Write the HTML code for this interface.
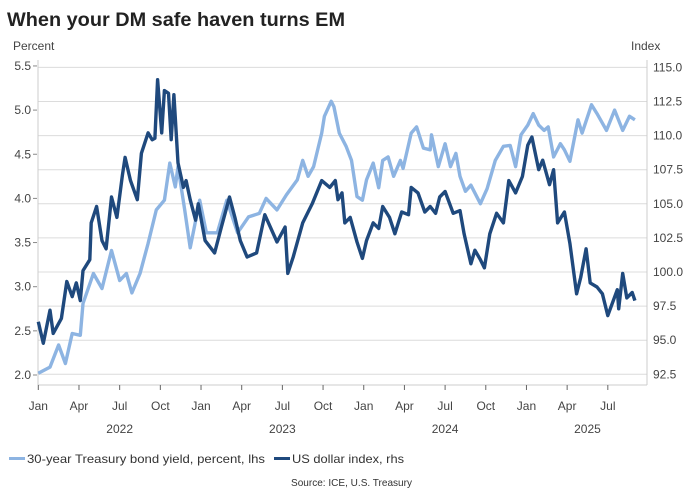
<!DOCTYPE html>
<html><head><meta charset="utf-8">
<style>
body{margin:0;background:#fff;}
svg{display:block;font-family:"Liberation Sans",sans-serif;}
</style></head>
<body>
<svg id="chart" width="700" height="500" viewBox="0 0 700 500" xmlns="http://www.w3.org/2000/svg">
<rect width="700" height="500" fill="#fff"/>
<text x="7" y="26" font-size="19" font-weight="bold" fill="#222" textLength="338" lengthAdjust="spacingAndGlyphs">When your DM safe haven turns EM</text>
<text x="13" y="50" font-size="12" fill="#444">Percent</text>
<text x="631" y="50" font-size="12" fill="#444">Index</text>
<g id="grid"></g><g id="axes"></g><g id="series"></g>
<g>
<rect x="9" y="457" width="16" height="3" fill="#8db4e2"/>
<text x="27" y="463" font-size="12" fill="#333" textLength="238" lengthAdjust="spacingAndGlyphs">30-year Treasury bond yield, percent, lhs</text>
<rect x="274" y="457" width="16" height="3" fill="#1f497d"/>
<text x="292" y="463" font-size="12" fill="#333" textLength="112" lengthAdjust="spacingAndGlyphs">US dollar index, rhs</text>
</g>
<text x="291" y="486" font-size="10.5" fill="#333" textLength="121" lengthAdjust="spacingAndGlyphs">Source: ICE, U.S. Treasury</text>
</svg>
<script>
const yieldMonths=[0,0.86,1.5,2,2.5,3.1,3.3,4.06,4.7,5.4,6,6.5,6.9,7.5,8.1,8.7,9.3,9.7,10.1,10.3,10.8,11.2,11.9,12.4,13.2,13.9,14.7,15.5,16.3,16.8,17.6,18.3,19.1,19.5,19.9,20.3,20.9,21.1,21.6,21.8,22.2,22.7,23.1,23.5,23.9,24.2,24.7,25.1,25.4,25.8,26.2,26.7,26.9,27.5,27.9,28.4,28.9,29.0,29.5,30.0,30.4,30.8,31.1,31.5,31.9,32.6,33.1,33.7,34.3,34.8,35.2,35.6,36.1,36.5,36.9,37.3,37.6,38.0,38.5,38.8,39.2,39.8,40.1,40.8,41.2,41.9,42.5,43.1,43.6,44.0];
const yieldValues=[2.02,2.09,2.34,2.13,2.47,2.45,2.81,3.15,2.98,3.41,3.07,3.15,2.93,3.15,3.49,3.87,3.98,4.40,4.13,4.36,3.87,3.44,3.98,3.61,3.61,3.98,3.61,3.79,3.83,4.0,3.87,4.04,4.21,4.43,4.25,4.36,4.74,4.93,5.10,5.04,4.74,4.59,4.43,4.02,3.98,4.21,4.40,4.12,4.43,4.47,4.25,4.43,4.34,4.74,4.81,4.57,4.55,4.72,4.36,4.62,4.36,4.51,4.25,4.08,4.15,3.94,4.11,4.43,4.59,4.60,4.36,4.72,4.83,4.96,4.83,4.77,4.81,4.47,4.62,4.55,4.42,4.89,4.74,5.06,4.96,4.77,5.0,4.77,4.93,4.89];
const dxyMonths=[0,0.37,0.86,1.1,1.7,2.1,2.5,2.8,3.1,3.3,3.8,3.9,4.3,4.7,5.0,5.4,5.8,6.2,6.4,6.8,7.3,7.6,8.1,8.4,8.6,8.8,9.1,9.3,9.6,9.8,10.0,10.3,10.7,10.9,11.2,11.6,11.8,12.3,13.0,13.5,14.1,14.5,14.9,15.4,16.1,16.7,17.6,18.2,18.4,18.8,19.5,20.2,20.9,21.5,21.9,22.1,22.4,22.6,23.0,23.5,23.9,24.2,24.7,25.1,25.4,25.9,26.3,26.8,27.3,27.5,28.0,28.5,28.9,29.3,29.6,30.0,30.6,31.1,31.4,31.9,32.2,32.6,32.9,33.3,33.8,34.3,34.7,35.2,35.7,36.1,36.4,36.9,37.2,37.7,38.0,38.3,38.8,39.2,39.7,40.0,40.4,40.7,41.2,41.6,42.0,42.7,42.8,43.1,43.4,43.8,44.0];
const dxyValues=[96.35,94.77,97.2,95.5,96.6,99.3,98.2,99.2,97.9,100.1,100.9,103.6,104.8,102.3,101.7,105.5,104.0,107.1,108.4,106.7,105.3,108.7,110.2,109.7,109.8,114.1,110.2,113.3,113.1,109.7,113.0,108.0,106.2,106.7,105.3,103.8,105.0,102.3,101.4,103.3,105.5,104.0,102.3,101.1,101.4,104.2,102.2,103.3,99.9,101.1,103.6,105.0,106.7,106.2,106.7,105.3,105.8,103.6,104.0,102.2,101.0,102.3,103.6,103.2,104.8,104.0,102.8,104.4,104.2,106.2,105.8,104.4,104.8,104.3,105.5,105.9,104.3,104.5,102.8,100.6,101.6,100.9,100.3,102.8,104.3,103.6,106.7,105.8,107.0,109.3,109.9,107.5,108.2,106.4,107.5,103.6,104.4,102.1,98.4,99.6,101.7,99.2,98.9,98.4,96.8,98.7,97.3,99.9,98.1,98.5,97.9];
const leftTicks=[2.0,2.5,3.0,3.5,4.0,4.5,5.0,5.5];
const rightTicks=[92.5,95.0,97.5,100.0,102.5,105.0,107.5,110.0,112.5,115.0];
const monthLabels=["Jan","Apr","Jul","Oct","Jan","Apr","Jul","Oct","Jan","Apr","Jul","Oct","Jan","Apr","Jul"];
const yearLabels=["2022","2023","2024","2025"];
const yearCenters=[6,18,30,40.5];

const NS="http://www.w3.org/2000/svg";
const X0=38.3,PX=13.56,PL=38,PR=647;
const xs=m=>X0+m*PX;
const yL=v=>375-(v-2.0)*88.3;
const yR=v=>374.3-(v-92.5)*13.64;
function mk(t,a,p){const e=document.createElementNS(NS,t);for(const k in a)e.setAttribute(k,a[k]);p.appendChild(e);return e;}
const grid=document.getElementById('grid'),axes=document.getElementById('axes'),ser=document.getElementById('series');
rightTicks.forEach(v=>{
  const l=mk('line',{x1:PL,x2:PR,y1:yR(v),y2:yR(v),stroke:'#dcdcdc','stroke-width':1},grid);
  
  
  const t=mk('text',{x:653,y:yR(v)+4,'font-size':12,fill:'#444'},axes);
  t.textContent=v.toFixed(1);
  
  
});
leftTicks.forEach(v=>{
  mk('line',{x1:33,x2:37,y1:yL(v),y2:yL(v),stroke:'#888'},axes);
  const t=mk('text',{x:31,y:yL(v)+4,'font-size':12,fill:'#444','text-anchor':'end'},axes);
  t.textContent=v.toFixed(1);
  
  
});
mk('line',{x1:PL,x2:PL,y1:60,y2:385,stroke:'#ccc'},axes);
mk('line',{x1:PR,x2:PR,y1:60,y2:385,stroke:'#ccc'},axes);
mk('line',{x1:PL,x2:PR,y1:385,y2:385,stroke:'#ccc'},axes);
monthLabels.forEach((s,i)=>{
  const x=xs(i*3);
  mk('line',{x1:x,x2:x,y1:385,y2:390,stroke:'#666'},axes);
  const t=mk('text',{x:x,y:410,'font-size':12,fill:'#444','text-anchor':'middle'},axes);
  t.textContent=s;
  
  
});
yearLabels.forEach((s,i)=>{
  const t=mk('text',{x:xs(yearCenters[i]),y:433,'font-size':12,fill:'#444','text-anchor':'middle'},axes);
  t.textContent=s;
  
  
});
function line(ms,vs,f,col,name){
  const d=ms.map((m,i)=>(i?'L':'M')+xs(m).toFixed(1)+','+f(vs[i]).toFixed(1)).join('');
  const p=mk('path',{d:d,fill:'none',stroke:col,'stroke-width':3.4,'stroke-linejoin':'round'},ser);
  
  
}
line(yieldMonths,yieldValues,yL,'#8db4e2','yield-line');
line(dxyMonths,dxyValues,yR,'#1f497d','dollar-index-line');
</script>
</body></html>
